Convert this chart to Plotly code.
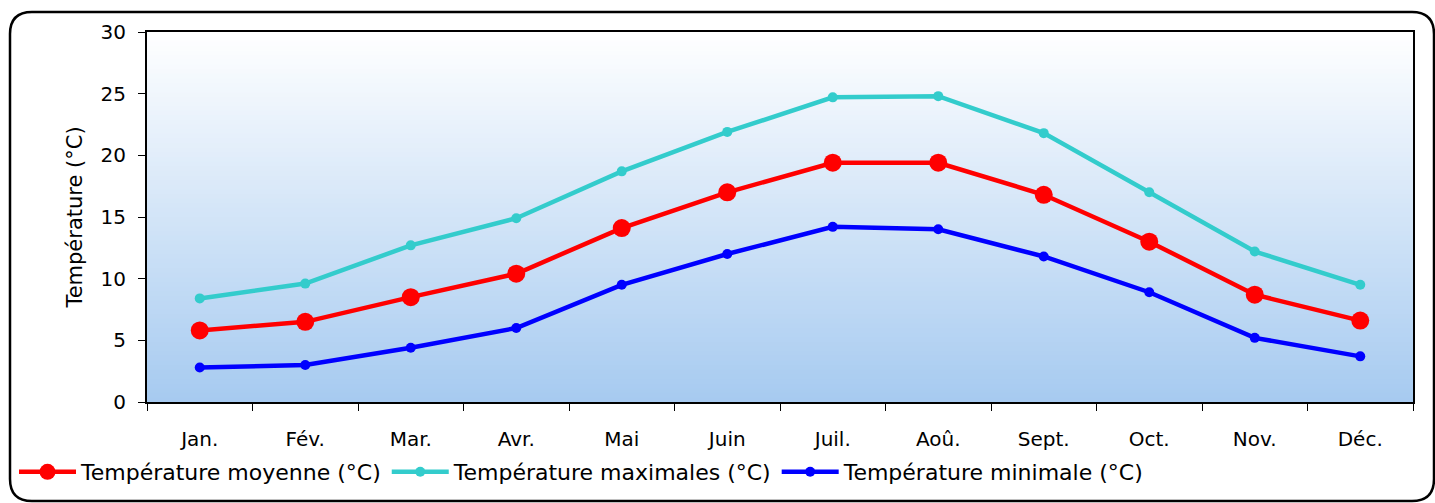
import numpy as np
import plotly.graph_objects as go

months = ["Jan.", "Fév.", "Mar.", "Avr.", "Mai", "Juin", "Juil.", "Aoû.",
          "Sept.", "Oct.", "Nov.", "Déc."]
temp_moyenne = [5.8, 6.5, 8.5, 10.4, 14.1, 17.0, 19.4, 19.4, 16.8, 13.0, 8.7, 6.6]
temp_max = [8.4, 9.6, 12.7, 14.9, 18.7, 21.9, 24.7, 24.8, 21.8, 17.0, 12.2, 9.5]
temp_min = [2.8, 3.0, 4.4, 6.0, 9.5, 12.0, 14.2, 14.0, 11.8, 8.9, 5.2, 3.7]

FONT = "DejaVu Sans"
W, H = 1435, 503
ML, MR, MT, MB = 147, 22, 32, 101
PW, PH = W - ML - MR, H - MT - MB

fig = go.Figure()

fig.add_trace(go.Scatter(
    x=months, y=temp_moyenne, mode="lines+markers",
    name="Température moyenne (°C)",
    line=dict(color="#FF0000", width=4.5),
    marker=dict(color="#FF0000", size=18),
))
fig.add_trace(go.Scatter(
    x=months, y=temp_max, mode="lines+markers",
    name="Température maximales (°C)",
    line=dict(color="#33CCCC", width=4.5),
    marker=dict(color="#33CCCC", size=10),
))
fig.add_trace(go.Scatter(
    x=months, y=temp_min, mode="lines+markers",
    name="Température minimale (°C)",
    line=dict(color="#0000FF", width=4.5),
    marker=dict(color="#0000FF", size=10),
))

# vertical gradient behind the plot area: white at top, pale blue at bottom
shapes = []
n = 80
top = np.array([255, 255, 255])
bot = np.array([166, 202, 240])
for i in range(n):
    t = (i + 0.5) / n
    c = bot + (top - bot) * t
    shapes.append(dict(
        type="rect", xref="x domain", yref="y domain",
        x0=0, x1=1, y0=i / n, y1=(i + 1) / n + 0.002,
        fillcolor=f"rgb({c[0]:.0f},{c[1]:.0f},{c[2]:.0f})",
        line=dict(width=0), layer="below",
    ))

# rounded frame around the whole chart
def px_x(p):
    return (p - ML) / PW

def px_y(p):
    return (H - MB - p) / PH

x0, x1, y0, y1, r = 10, 1434, 12, 501, 22
path = (
    f"M {px_x(x0 + r)},{px_y(y0)} L {px_x(x1 - r)},{px_y(y0)} "
    f"Q {px_x(x1)},{px_y(y0)} {px_x(x1)},{px_y(y0 + r)} "
    f"L {px_x(x1)},{px_y(y1 - r)} "
    f"Q {px_x(x1)},{px_y(y1)} {px_x(x1 - r)},{px_y(y1)} "
    f"L {px_x(x0 + r)},{px_y(y1)} "
    f"Q {px_x(x0)},{px_y(y1)} {px_x(x0)},{px_y(y1 - r)} "
    f"L {px_x(x0)},{px_y(y0 + r)} "
    f"Q {px_x(x0)},{px_y(y0)} {px_x(x0 + r)},{px_y(y0)} Z"
)
shapes.append(dict(type="path", xref="paper", yref="paper", path=path,
                   line=dict(color="black", width=2.5), layer="above"))

fig.update_layout(
    width=W, height=H,
    margin=dict(l=ML, r=MR, t=MT, b=MB, pad=0, autoexpand=False),
    paper_bgcolor="white",
    plot_bgcolor="white",
    font=dict(family=FONT, size=19, color="black"),
    shapes=shapes,
    showlegend=True,
    legend=dict(
        orientation="h", x=px_x(14), y=px_y(472), xanchor="left", yanchor="middle",
        font=dict(size=22, family=FONT), bgcolor="rgba(0,0,0,0)",
        itemwidth=57, tracegroupgap=0,
    ),
)

fig.update_xaxes(
    type="category", range=[-0.5, 11.5], showgrid=False, zeroline=False,
    showline=True, linecolor="black", linewidth=2, mirror=True,
    ticks="outside", tickson="boundaries", ticklen=7, tickcolor="black",
    tickwidth=1, tickfont=dict(size=20, family=FONT), ticklabelstandoff=18,
    automargin=False,
)
fig.update_yaxes(
    range=[0, 30], dtick=5, showgrid=False, zeroline=False,
    showline=True, linecolor="black", linewidth=2, mirror=True,
    ticks="outside", ticklen=7, tickcolor="black", tickwidth=1,
    tickfont=dict(size=20, family=FONT), ticklabelstandoff=8,
    title=dict(text="Température (°C)", font=dict(size=21, family=FONT), standoff=12),
    automargin=False,
)

fig.write_html("out.html")
